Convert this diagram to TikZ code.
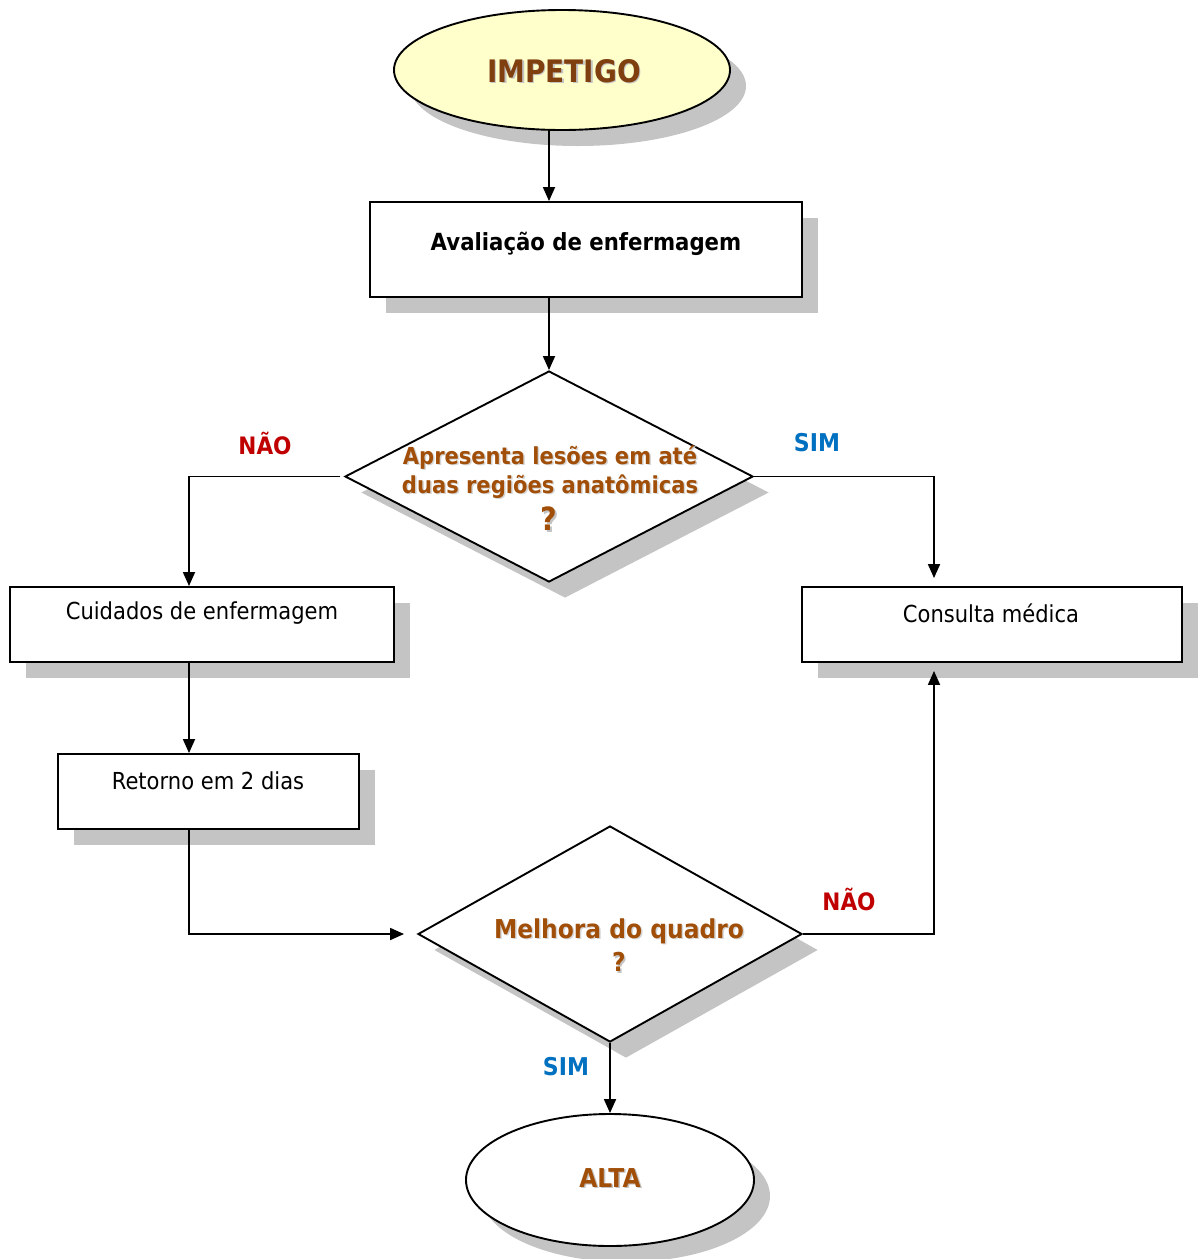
\documentclass[tikz,border=0pt]{standalone}
\usepackage{fontspec}
\setmainfont{DejaVu Sans}[FakeStretch=0.9]
\usetikzlibrary{shapes.geometric,arrows.meta,shadows}
\definecolor{shade}{HTML}{C4C4C4}
\definecolor{pale}{HTML}{FFFFCC}
\definecolor{titlebrown}{HTML}{7F3F0F}
\definecolor{qbrown}{HTML}{A14F08}
\definecolor{nored}{HTML}{C00000}
\definecolor{yesblue}{HTML}{0070C0}
\newcommand{\shadowtext}[2]{\makebox[0pt]{\textcolor{shade}{\smash{\raisebox{-1.5pt}{\hspace{3pt}#2}}}}\makebox[0pt]{\textcolor{#1}{#2}}}
\tikzset{
  flow/.style={draw=black, line width=1.9pt, inner sep=0pt,
    drop shadow={shadow xshift=16pt, shadow yshift=-16pt, fill=shade, opacity=1}},
  stepbox/.style={flow, rectangle, fill=white},
  decision/.style={flow, diamond, fill=white},
  terminal/.style={flow, ellipse},
  arr/.style={line width=1.8pt, -{Triangle[length=14pt,width=12pt]}},
  boxtext/.style={font=\fontsize{23.4}{28}\selectfont, inner sep=0pt},
  qone/.style={font=\fontsize{23.4}{29}\selectfont\bfseries, text=qbrown, align=center, inner sep=0pt},
  qtwo/.style={font=\fontsize{26}{31}\selectfont\bfseries, text=qbrown, align=center, inner sep=0pt},
  qshade/.style={text=shade!70},
  nolabel/.style={font=\fontsize{24}{28}\selectfont\bfseries, text=nored, inner sep=0pt},
  yeslabel/.style={font=\fontsize{24.5}{28}\selectfont\bfseries, text=yesblue, inner sep=0pt},
}
\begin{document}
\begin{tikzpicture}[x=1pt, y=-1pt]
\useasboundingbox[fill=white] (0,0) rectangle (1201,1259);

% shapes
\node[terminal, fill=pale, minimum width=336pt, minimum height=120pt] (impetigo) at (562,70) {};
\node[stepbox, minimum width=432pt, minimum height=95pt] (aval) at (586,249.5) {};
\node[decision, minimum width=408pt, minimum height=211pt] (q1) at (549,476.5) {};
\node[stepbox, minimum width=384pt, minimum height=75pt] (cuid) at (202,624.5) {};
\node[stepbox, minimum width=380pt, minimum height=75pt] (cons) at (992,624.5) {};
\node[stepbox, minimum width=301pt, minimum height=75pt] (ret) at (208.5,791.5) {};
\node[decision, minimum width=384pt, minimum height=216pt] (q2) at (610,934) {};
\node[terminal, fill=white, minimum width=288pt, minimum height=132pt] (alta) at (610,1180) {};

% texts
\node[inner sep=0pt, font=\fontsize{31}{36}\selectfont\bfseries] (t-imp) at (564,71) {\shadowtext{titlebrown}{IMPETIGO}};
\node[boxtext, font=\fontsize{23.6}{28}\selectfont\bfseries] (t-aval) at (586,244) {Avaliação de enfermagem};
\node[qone, qshade] (t-q1s) at (551.5,473.5) {Apresenta lesões em até\\duas regiões anatômicas};
\node[qone] (t-q1) at (550,472) {Apresenta lesões em até\\duas regiões anatômicas};
\node[inner sep=0pt, font=\fontsize{32}{36}\selectfont\bfseries] (t-q1m) at (549,519) {\shadowtext{qbrown}{?}};
\node[boxtext] (t-cuid) at (202,613) {Cuidados de enfermagem};
\node[boxtext] (t-cons) at (991,613) {Consulta médica};
\node[boxtext] (t-ret) at (208,781) {Retorno em 2 dias};
\node[qtwo, qshade] (t-q2s) at (620.5,932.5) {Melhora do quadro};
\node[qtwo] (t-q2) at (619,931) {Melhora do quadro};
\node[inner sep=0pt, font=\fontsize{26}{31}\selectfont\bfseries] (t-q2m) at (619,962) {\shadowtext{qbrown}{?}};
\node[inner sep=0pt, font=\fontsize{26}{31}\selectfont\bfseries] (t-alta) at (610,1178) {\shadowtext{qbrown}{ALTA}};

% branch labels
\node[nolabel] (l-no1) at (265,443) {NÃO};
\node[yeslabel] (l-yes1) at (817,443) {SIM};
\node[nolabel] (l-no2) at (849,899) {NÃO};
\node[yeslabel] (l-yes2) at (566,1067) {SIM};

% guide lines for the vertical runs
\coordinate (lx) at (189,0);
\coordinate (rx) at (934,0);

% connectors
\draw[arr] (q1.north |- impetigo.south) -- (q1.north |- aval.north);
\draw[arr] (q1.north |- aval.south) -- (q1.north);
\draw[arr] ([xshift=-4pt]q1.west) -| (lx |- cuid.north);
\draw[arr] (q1.east) -| ([yshift=8pt]rx |- cons.north);
\draw[arr] (lx |- cuid.south) -- (lx |- ret.north);
\draw[arr] (lx |- ret.south) |- ([xshift=-13pt]q2.west);
\draw[arr] (q2.east) -| ([yshift=-8pt]rx |- cons.south);
\draw[arr] (q2.south) -- (alta.north);
\end{tikzpicture}
\end{document}
